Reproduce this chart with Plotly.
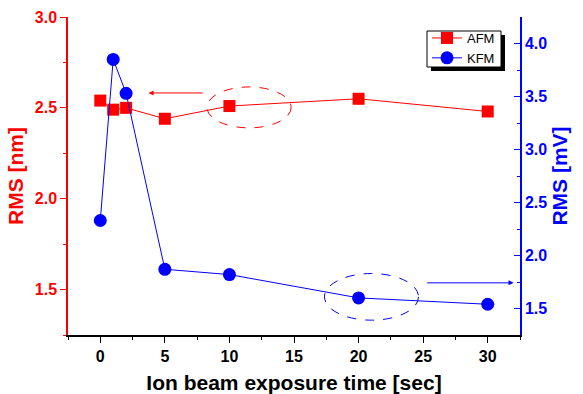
import plotly.graph_objects as go

time_sec = [0, 1, 2, 5, 10, 20, 30]
afm_rms_nm = [2.54, 2.49, 2.50, 2.44, 2.51, 2.55, 2.48]
kfm_rms_mv = [2.33, 3.85, 3.53, 1.87, 1.82, 1.60, 1.54]

x_ticks = [0, 5, 10, 15, 20, 25, 30]
left_ticks = [1.5, 2.0, 2.5, 3.0]
right_ticks = [1.5, 2.0, 2.5, 3.0, 3.5, 4.0]

RED = "#ff0000"
BLUE = "#0000ff"
FONT = "Arial, Liberation Sans, sans-serif"

# plot-area geometry in px (for paper-coordinate decorations)
L, R, T, B = 68, 520, 17, 335


def px_x(p):
    return (p - L) / (R - L)


def px_y(p):
    return (B - p) / (B - T)


def bold(vals, fmt):
    return ["<b>" + format(v, fmt) + "</b>" for v in vals]


fig = go.Figure()
fig.add_trace(go.Scatter(
    x=time_sec, y=afm_rms_nm, name="AFM", mode="lines+markers",
    line=dict(color=RED, width=1),
    marker=dict(symbol="square", size=12, color=RED),
    yaxis="y", xaxis="x"))
fig.add_trace(go.Scatter(
    x=time_sec, y=kfm_rms_mv, name="KFM", mode="lines+markers",
    line=dict(color=BLUE, width=1),
    marker=dict(symbol="circle", size=13, color=BLUE),
    yaxis="y2", xaxis="x"))

fig.update_layout(
    width=583, height=394,
    margin=dict(l=L, r=583 - R, t=T, b=394 - B, autoexpand=False),
    paper_bgcolor="white", plot_bgcolor="white",
    font=dict(family=FONT),
    showlegend=True,
    legend=dict(x=px_x(427), y=px_y(23), xanchor="left", yanchor="top",
                bgcolor="rgba(0,0,0,0)", borderwidth=0,
                font=dict(size=13, color="black", family=FONT),
                itemwidth=30, tracegroupgap=0),
    xaxis=dict(range=[-2.5, 32.5], tickvals=x_ticks, ticktext=bold(x_ticks, "d"),
               ticks="outside", ticklen=6, tickwidth=1, tickcolor="black",
               minor=dict(dtick=2.5, tick0=0, ticks="outside", ticklen=3, tickcolor="black"),
               showline=True, linecolor="black", linewidth=1.5,
               showgrid=False, zeroline=False,
               tickfont=dict(size=16, color="black", family=FONT),
               title=dict(text="<b>Ion beam exposure time [sec]</b>", standoff=13,
                          font=dict(size=21, color="black", family=FONT))),
    xaxis3=dict(range=[-2.5, 32.5], overlaying="x", side="top", anchor="y",
                tickvals=x_ticks, ticks="inside", ticklen=6, tickcolor="black",
                minor=dict(dtick=2.5, tick0=0, ticks="inside", ticklen=3, tickcolor="black"),
                showline=True, linecolor="black", linewidth=1.5,
                showticklabels=False, showgrid=False, zeroline=False),
    yaxis=dict(range=[1.25, 3.0], tickvals=left_ticks, ticktext=bold(left_ticks, ".1f"),
               ticks="outside", ticklen=6, tickcolor=RED,
               minor=dict(dtick=0.25, tick0=0, ticks="outside", ticklen=3, tickcolor=RED),
               showline=True, linecolor=RED, linewidth=1.5,
               showgrid=False, zeroline=False,
               tickfont=dict(size=16, color=RED, family=FONT),
               title=dict(text="<b>RMS [nm]</b>", standoff=5,
                          font=dict(size=21, color=RED, family=FONT))),
    yaxis2=dict(range=[1.25, 4.25], tickvals=right_ticks, ticktext=bold(right_ticks, ".1f"),
                overlaying="y", side="right", anchor="x",
                ticks="inside", ticklen=6, tickcolor=BLUE,
                minor=dict(dtick=0.25, tick0=0, ticks="inside", ticklen=3, tickcolor=BLUE),
                showline=True, linecolor=BLUE, linewidth=1.5,
                showgrid=False, zeroline=False,
                tickfont=dict(size=16, color=BLUE, family=FONT),
                title=dict(text="<b>RMS [mV]</b>", standoff=6,
                           font=dict(size=21, color=BLUE, family=FONT))),
)

# annotations: dashed ellipses and arrows
fig.add_shape(type="circle", xref="x", yref="y", x0=8.26, x1=14.78, y0=2.39, y1=2.615,
              line=dict(color=RED, width=1, dash="dash"))
fig.add_shape(type="circle", xref="x", yref="y2", x0=17.36, x1=24.64, y0=1.39, y1=1.83,
              line=dict(color=BLUE, width=1, dash="dash"))
fig.add_annotation(x=3.74, y=2.582, xref="x", yref="y", ax=8.05, ay=2.582, axref="x", ayref="y",
                   showarrow=True, arrowhead=2, arrowsize=1, arrowwidth=1, arrowcolor=RED, text="")
fig.add_annotation(x=32.0, y=1.742, xref="x", yref="y2", ax=25.2, ay=1.742, axref="x", ayref="y2",
                   showarrow=True, arrowhead=2, arrowsize=1, arrowwidth=1, arrowcolor=BLUE, text="")

# legend frame with drop shadow
fig.add_shape(type="rect", xref="paper", yref="paper",
              x0=px_x(431), x1=px_x(505), y0=px_y(71), y1=px_y(35),
              fillcolor="black", line=dict(width=0), layer="above")
fig.add_shape(type="rect", xref="paper", yref="paper",
              x0=px_x(427), x1=px_x(501), y0=px_y(67), y1=px_y(31),
              fillcolor="white", line=dict(color="black", width=1), layer="above")

fig.write_html("out.html")
